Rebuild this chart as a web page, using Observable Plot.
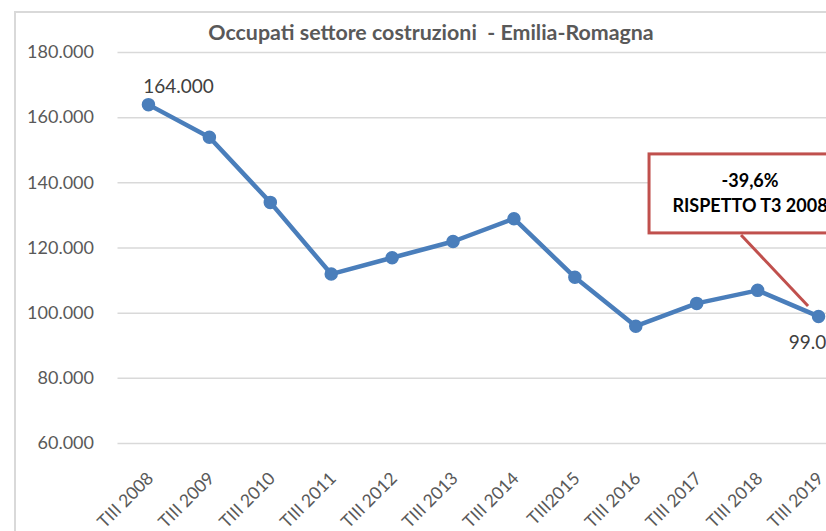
<!DOCTYPE html>
<html>
<head>
<meta charset="utf-8">
<script src="https://cdn.jsdelivr.net/npm/d3@7"></script>
<script src="https://cdn.jsdelivr.net/npm/@observablehq/plot@0.6"></script>
<style>
  html, body { margin: 0; padding: 0; background: #fff; overflow: hidden; width: 826px; height: 531px; }
  #wrap { position: relative; width: 826px; height: 531px; overflow: hidden; }
  #border { position: absolute; left: 14px; top: 11px; width: 900px; height: 600px; border-left: 2px solid #d9d9d9; border-top: 2px solid #d9d9d9; }
  #title { position: absolute; left: 0; width: 862px; top: 19px; text-align: center; font-family: Lato, sans-serif; font-weight: bold; font-size: 21.4px; color: #595959; white-space: pre; }
  #chart { position: absolute; left: 0; top: 0; width: 860px; }
  #chart svg { font-family: Lato, sans-serif; overflow: visible; max-width: none !important; width: 860px; height: 531px; }
</style>
</head>
<body>
<div id="wrap">
  <div id="border"></div>
  <div id="chart"></div>
  <div id="title"></div>
</div>
<script>
const titleText = "Occupati settore costruzioni  - Emilia-Romagna";
const categories = ["TIII 2008","TIII 2009","TIII 2010","TIII 2011","TIII 2012","TIII 2013","TIII 2014","TIII2015","TIII 2016","TIII 2017","TIII 2018","TIII 2019"];
const occupati = [164000,154000,134000,112000,117000,122000,129000,111000,96000,103000,107000,99000];
const yTicks = [60000,80000,100000,120000,140000,160000,180000];
const calloutLines = ["-39,6%", "RISPETTO T3 2008"];

const data = categories.map((c, i) => ({cat: c, v: occupati[i]}));
const fmt = v => d3.format(",")(v).replace(/,/g, ".");
const blue = "#4a7ebb";
const red = "#c0504d";

document.getElementById("title").textContent = titleText;

const first = data[0];
const last = data[data.length - 1];

const chart = Plot.plot({
  width: 860,
  height: 531,
  marginLeft: 117.5,
  marginRight: 11.5,
  marginTop: 52,
  marginBottom: 88,
  style: {maxWidth: "none"},
  x: {type: "band", domain: categories, padding: 0, align: 0.5, round: false},
  y: {domain: [60000, 180000]},
  marks: [
    Plot.gridY(yTicks, {stroke: "#d9d9d9", strokeOpacity: 1, strokeWidth: 1.5}),
    Plot.axisY(yTicks, {tickSize: 0, tickPadding: 24, tickFormat: fmt, fontSize: 18, fill: "#595959", label: null}),
    Plot.axisX({tickRotate: -45, tickSize: 0, tickPadding: 32, dx: 2, fontSize: 17.5, fill: "#595959", label: null}),
    Plot.line(data, {x: "cat", y: "v", stroke: blue, strokeWidth: 4.5, curve: "linear"}),
    Plot.dot(data, {x: "cat", y: "v", r: 6, fill: blue, stroke: blue}),
    Plot.text([first], {x: "cat", y: "v", text: d => fmt(d.v), dx: 30, dy: -18, fontSize: 19, fill: "#404040"}),
    Plot.text([last], {x: "cat", y: "v", text: d => fmt(d.v), dx: 0, dy: 26, fontSize: 19, fill: "#404040"})
  ]
});

document.getElementById("chart").appendChild(chart);

// Callout anchored to the last point, positioned via the chart's scales
const sx = chart.scale("x"), sy = chart.scale("y");
const px = sx.apply(last.cat) + sx.bandwidth / 2;
const py = sy.apply(last.v);
const svg = d3.select(chart);
const g = svg.append("g");
g.append("line")
  .attr("x1", px - 77).attr("y1", py - 81)
  .attr("x2", px - 10).attr("y2", py - 10)
  .attr("stroke", red).attr("stroke-width", 3);
g.append("rect")
  .attr("x", px - 169).attr("y", py - 162)
  .attr("width", 203).attr("height", 79)
  .attr("fill", "#fff").attr("stroke", red).attr("stroke-width", 3);
g.selectAll("text.c").data(calloutLines).join("text")
  .attr("x", px - 68)
  .attr("y", (d, i) => py - 135 + i * 25)
  .attr("dy", "0.35em")
  .attr("text-anchor", "middle")
  .attr("font-weight", "bold")
  .attr("font-size", 18)
  .attr("fill", "#000")
  .text(d => d);
</script>
</body>
</html>
